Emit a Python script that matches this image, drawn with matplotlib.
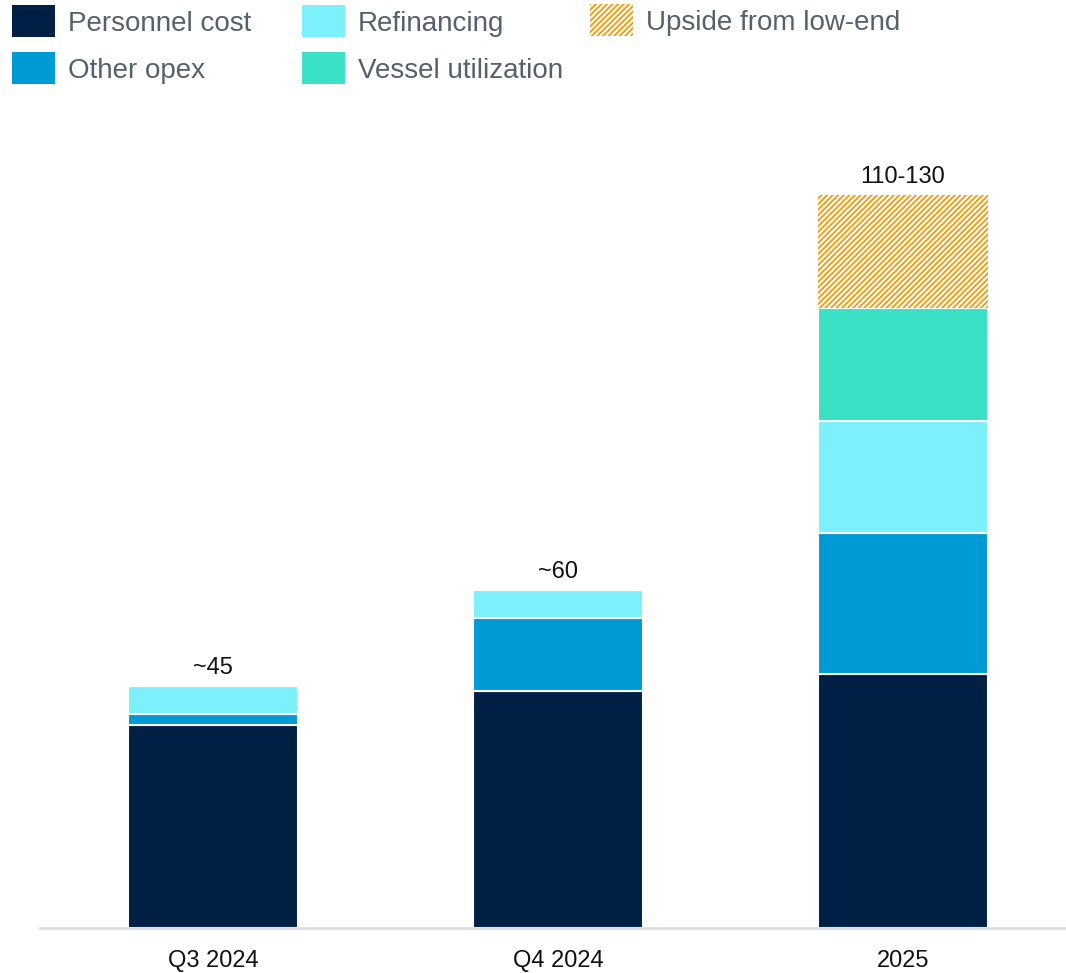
import matplotlib
matplotlib.use("Agg")
import matplotlib.pyplot as plt
from matplotlib.patches import Rectangle
import numpy as np

plt.rcParams["font.family"] = ["Liberation Sans", "DejaVu Sans"]
plt.rcParams["hatch.linewidth"] = 1.3

periods = ["Q3 2024", "Q4 2024", "2025"]
personnel = [36, 42, 45]
other_opex = [2, 13, 25]
refinancing = [5, 5, 20]
vessel = [0, 0, 20]
upside = [0, 0, 20]
totals_text = ["~45", "~60", "110-130"]

series = [
    ("Personnel cost", personnel, "#001f45"),
    ("Other opex", other_opex, "#009bd4"),
    ("Refinancing", refinancing, "#7cf1fb"),
    ("Vessel utilization", vessel, "#3ae1c5"),
]
ORANGE = "#f29a0a"
HATCH = "//////"

fig = plt.figure(figsize=(10.66, 9.73), dpi=100)
ax = fig.add_axes([0.0375, 0.0463, 0.9625, 0.7533])

x = np.arange(len(periods))
width = 0.493
bottom = np.zeros(len(periods))
for label, vals, color in series:
    vals = np.array(vals, dtype=float)
    ax.bar(x, vals, width, bottom=bottom, color=color, edgecolor="white",
           linewidth=1.5)
    bottom += vals

up = np.array(upside, dtype=float)
ax.bar(x, up, width, bottom=bottom, facecolor="white", edgecolor=ORANGE,
       hatch=HATCH, linewidth=0)
bottom += up

for xi, top, txt in zip(x, bottom, totals_text):
    ax.annotate(txt, (xi, top), xytext=(0, 5), textcoords="offset points",
                ha="center", va="bottom", fontsize=17, color="#111111")

ax.set_xlim(-0.501, 2.472)
ax.set_ylim(0, 130)
ax.set_xticks(x)
ax.set_xticklabels(periods, fontsize=17, color="#111111")
ax.tick_params(axis="x", length=0, pad=16)
ax.set_yticks([])
for side in ("top", "right", "left"):
    ax.spines[side].set_visible(False)
ax.spines["bottom"].set_color("#d9dadf")
ax.spines["bottom"].set_linewidth(1.8)

# legend drawn by hand in figure pixels
W, H = fig.get_figwidth() * fig.dpi, fig.get_figheight() * fig.dpi
legend_items = [
    ("Personnel cost", series[0][2], 12, 21, False),
    ("Other opex", series[1][2], 12, 68, False),
    ("Refinancing", series[2][2], 302, 21, False),
    ("Vessel utilization", series[3][2], 302, 68, False),
    ("Upside from low-end", ORANGE, 590, 20, True),
]
for text, color, px, py, hatched in legend_items:
    if hatched:
        rect = Rectangle((px / W, (H - py - 16) / H), 43 / W, 32 / H,
                         transform=fig.transFigure, facecolor="white",
                         edgecolor=color, hatch=HATCH, linewidth=0)
    else:
        rect = Rectangle((px / W, (H - py - 16) / H), 43 / W, 32 / H,
                         transform=fig.transFigure, facecolor=color,
                         edgecolor="none")
    fig.add_artist(rect)
    fig.text((px + 56) / W, (H - py - 3) / H, text, fontsize=20,
             color="#57616c", ha="left", va="center")

fig.savefig("out.png", dpi=100)
